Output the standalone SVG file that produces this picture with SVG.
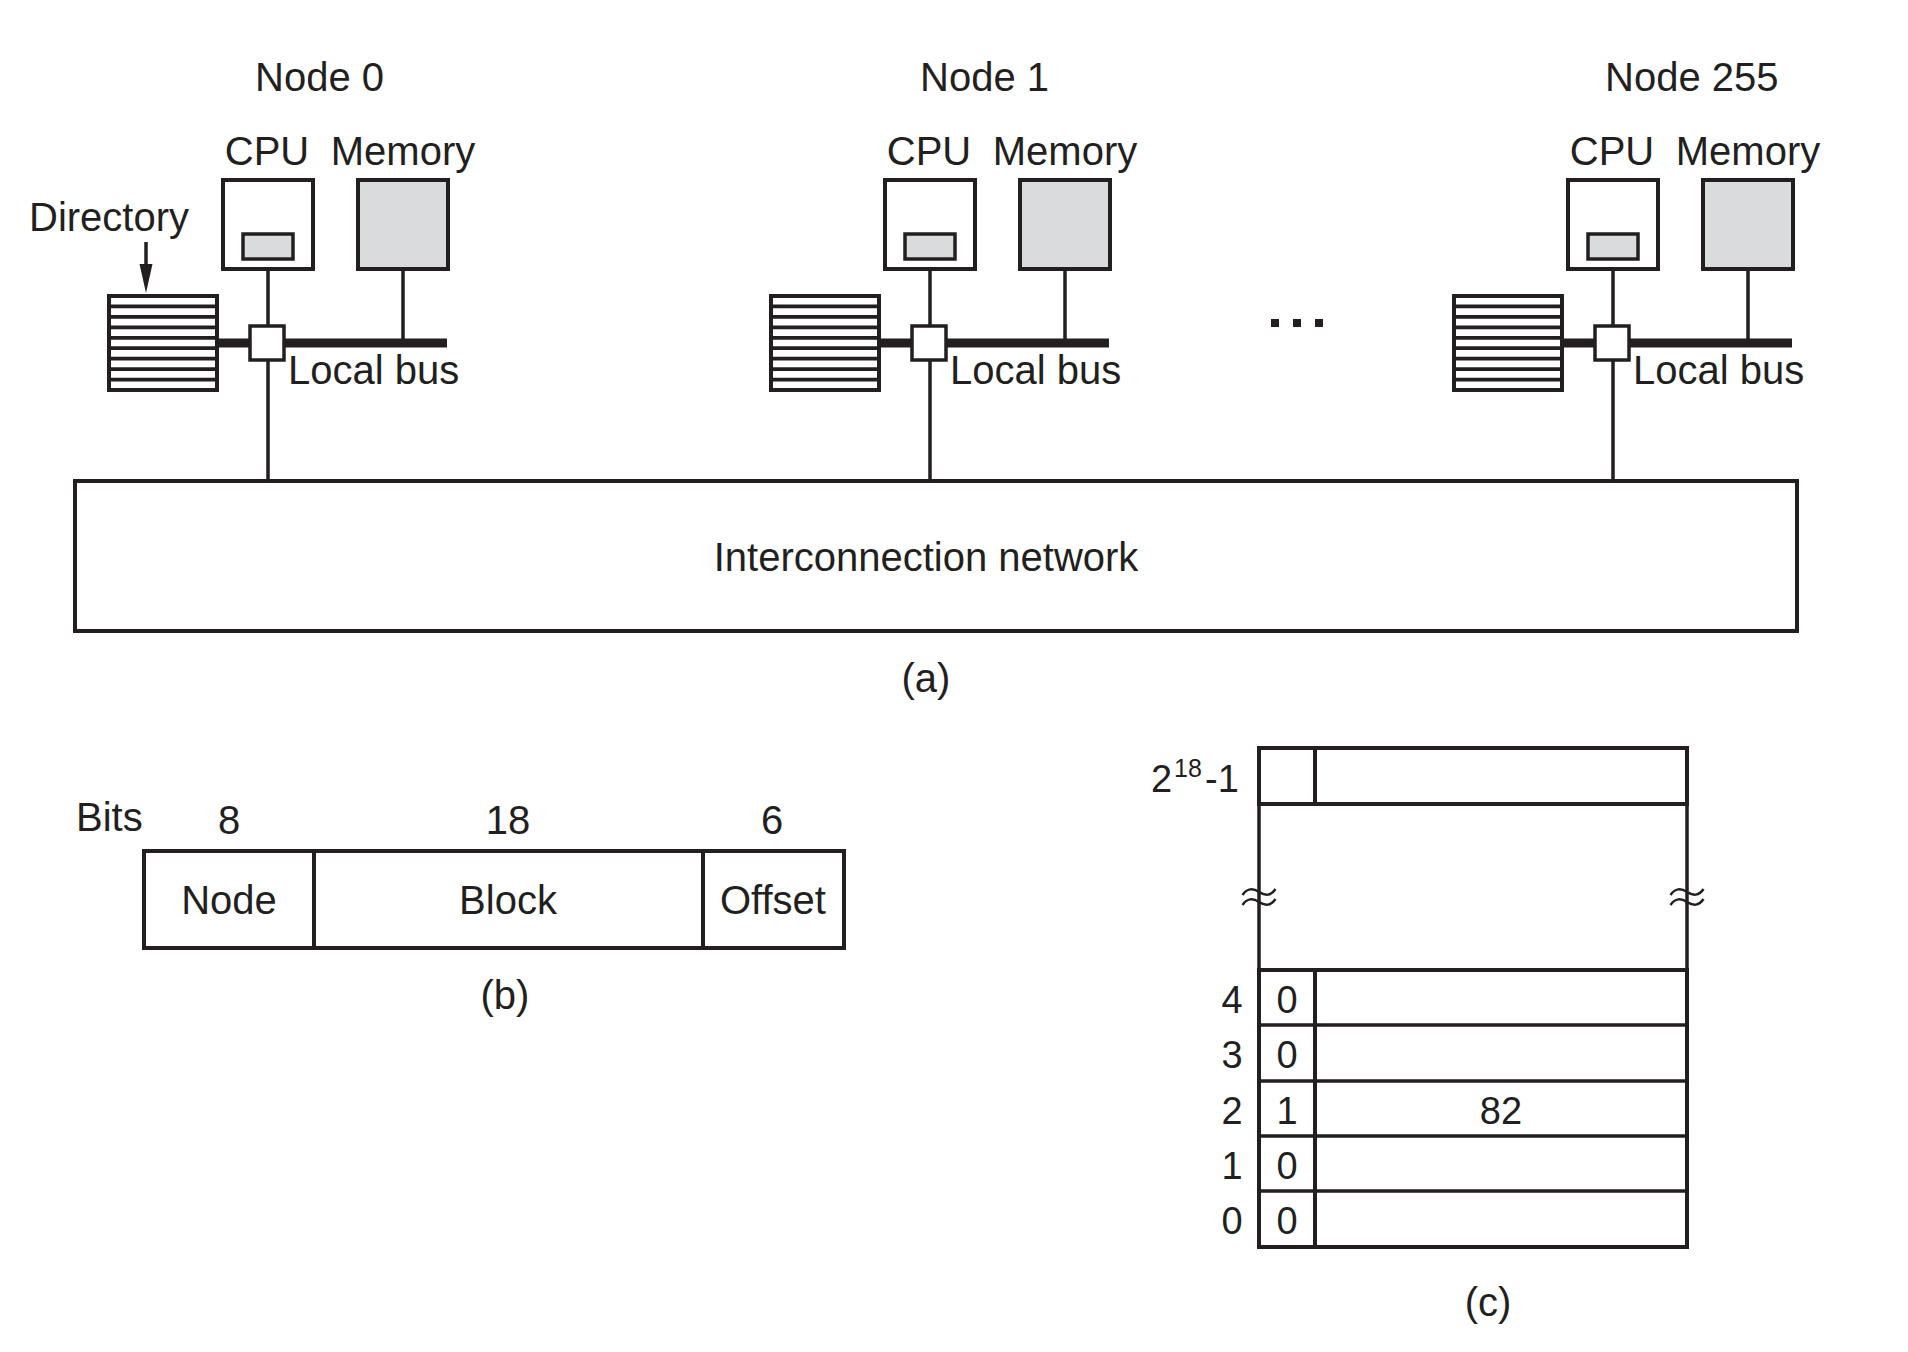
<svg xmlns="http://www.w3.org/2000/svg" width="1908" height="1352" viewBox="0 0 1908 1352">
<style>
.t{font-family:"Liberation Sans",Arial,Helvetica,sans-serif;font-size:40px;fill:#231f20}
.m{text-anchor:middle}
.d{font-size:38px}
.ln{stroke:#231f20;stroke-width:3.5;fill:none}
.bus{stroke:#231f20;stroke-width:9;fill:none}
.box{stroke:#231f20;stroke-width:4;fill:#fff}
.g{fill:#dadbdc}
.st{stroke:#231f20;stroke-width:3.7;fill:none}
.tl{stroke:#231f20;stroke-width:2.5;fill:none}
</style>
<defs>
<g id="dir">
<rect class="box" x="109" y="296" width="108" height="94"/>
<path class="st" d="M109 306.4H217M109 316.9H217M109 327.3H217M109 337.8H217M109 348.2H217M109 358.7H217M109 369.1H217M109 379.6H217"/>
</g>
<g id="unit">
<rect class="box" x="223" y="180" width="90" height="89"/>
<rect class="box g" x="243" y="234" width="50" height="25" style="stroke-width:3.5"/>
<rect class="box g" x="358" y="180" width="90" height="89"/>
<use href="#dir"/>
<rect class="box" x="250" y="326" width="34" height="34" style="stroke-width:3.5"/>
</g>
<path id="tilde" class="tl" d="M-16.5,-2 C-12,-9 -6,-9 0,-5 C6,-1 12,-1 16.5,-8 M-16.5,8 C-12,1 -6,1 0,5 C6,9 12,9 16.5,2"/>
</defs>

<g id="network">
<rect class="box" x="75" y="481" width="1722" height="150"/>
<text class="t m" x="926" y="571">Interconnection network</text>
</g>

<g id="connectors">
<path class="bus" d="M217 343H447M879 343H1109M1562 343H1792"/>
<path class="ln" d="M268 269V326M268 360V481M403 269V343"/>
<path class="ln" d="M930 269V326M930 360V481M1065 269V343"/>
<path class="ln" d="M1613 269V326M1613 360V481M1748 269V343"/>
<path class="ln" d="M146 242V268"/>
<polygon points="139.5,264 152.5,264 146,293" fill="#231f20"/>
</g>

<g id="node0">
<text class="t" x="255" y="91">Node 0</text>
<text class="t m" x="267" y="165">CPU</text>
<text class="t m" x="403" y="165">Memory</text>
<text class="t" x="29" y="231">Directory</text>
<use href="#unit"/>
<text class="t" x="288" y="384">Local bus</text>
</g>

<g id="node1">
<text class="t" x="920" y="91">Node 1</text>
<text class="t m" x="929" y="165">CPU</text>
<text class="t m" x="1065" y="165">Memory</text>
<use href="#unit" transform="translate(662,0)"/>
<text class="t" x="950" y="384">Local bus</text>
</g>

<g id="ellipsis">
<rect x="1271" y="319" width="8" height="8" fill="#231f20"/>
<rect x="1293" y="319" width="8" height="8" fill="#231f20"/>
<rect x="1315" y="319" width="8" height="8" fill="#231f20"/>
</g>

<g id="node255">
<text class="t" x="1605" y="91">Node 255</text>
<text class="t m" x="1612" y="165">CPU</text>
<text class="t m" x="1748" y="165">Memory</text>
<use href="#unit" transform="translate(1345,0)"/>
<text class="t" x="1633" y="384">Local bus</text>
</g>

<text class="t m" x="926" y="692">(a)</text>

<g id="address">
<text class="t" x="76" y="831">Bits</text>
<text class="t m" x="229" y="834">8</text>
<text class="t m" x="508" y="834">18</text>
<text class="t m" x="772" y="834">6</text>
<rect class="box" x="144" y="851" width="700" height="97"/>
<path class="ln" d="M314 851V948M703 851V948" style="stroke-width:4"/>
<text class="t m" x="229" y="914">Node</text>
<text class="t m" x="508" y="914">Block</text>
<text class="t m" x="773" y="914">Offset</text>
</g>
<text class="t m" x="505" y="1009">(b)</text>

<g id="directory-table">
<text class="t d"><tspan x="1151" y="792">2</tspan><tspan x="1174" y="777" style="font-size:25px">18</tspan><tspan x="1205" y="792">-1</tspan></text>
<rect class="box" x="1259" y="748" width="428" height="56"/>
<path class="ln" d="M1315 748V804" style="stroke-width:4"/>
<path class="ln" d="M1259 804V970M1687 804V970"/>
<use href="#tilde" x="1259" y="897"/>
<use href="#tilde" x="1687" y="897"/>
<rect class="box" x="1259" y="970" width="428" height="277"/>
<path class="ln" d="M1259 1025H1687M1259 1081H1687M1259 1136H1687M1259 1191H1687"/>
<path class="ln" d="M1315 970V1247" style="stroke-width:4"/>
<text class="t d m" x="1232" y="1013">4</text>
<text class="t d m" x="1232" y="1068">3</text>
<text class="t d m" x="1232" y="1124">2</text>
<text class="t d m" x="1232" y="1179">1</text>
<text class="t d m" x="1232" y="1234">0</text>
<text class="t d m" x="1287" y="1013">0</text>
<text class="t d m" x="1287" y="1068">0</text>
<text class="t d m" x="1287" y="1124">1</text>
<text class="t d m" x="1287" y="1179">0</text>
<text class="t d m" x="1287" y="1234">0</text>
<text class="t d m" x="1501" y="1124">82</text>
</g>
<text class="t m" x="1488" y="1316">(c)</text>
</svg>
